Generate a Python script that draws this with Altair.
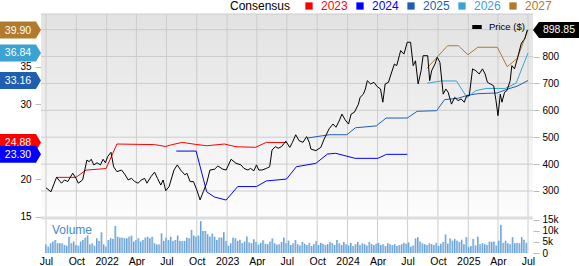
import altair as alt
import pandas as pd

# ---------------- data ----------------
price_dates = ["2021-07-01","2021-07-16","2021-08-02","2021-08-17","2021-08-26","2021-09-05","2021-09-20","2021-09-30","2021-10-07","2021-10-20",
"2021-11-02","2021-11-09","2021-11-15","2021-11-23","2021-12-03","2021-12-13","2021-12-21","2021-12-28","2022-01-04","2022-01-14",
"2022-01-22","2022-02-01","2022-02-15","2022-02-26","2022-03-07","2022-03-17","2022-03-27","2022-04-06","2022-04-16","2022-04-26",
"2022-05-03","2022-05-15","2022-05-26","2022-06-04","2022-06-14","2022-06-21","2022-06-29","2022-07-09","2022-07-24","2022-08-03",
"2022-08-13","2022-08-26","2022-09-01","2022-09-11","2022-09-21","2022-10-01","2022-10-11","2022-10-21","2022-10-31","2022-11-10",
"2022-11-24","2022-12-04","2022-12-19","2022-12-29","2023-01-13","2023-01-28","2023-02-12","2023-02-21","2023-03-05","2023-03-13",
"2023-03-23","2023-03-31","2023-04-07","2023-04-17","2023-04-30","2023-05-10","2023-05-17","2023-05-27","2023-06-05","2023-06-15",
"2023-06-28","2023-07-10","2023-07-18","2023-07-28","2023-08-07","2023-08-19","2023-08-30","2023-09-07","2023-09-12","2023-09-27",
"2023-10-12","2023-10-22","2023-11-06","2023-11-18","2023-11-27","2023-12-08","2023-12-15","2023-12-25","2024-01-04","2024-01-12",
"2024-01-22","2024-02-03","2024-02-08","2024-02-18","2024-02-24","2024-03-01","2024-03-11","2024-03-21","2024-03-31","2024-04-10",
"2024-04-17","2024-04-24","2024-05-04","2024-05-12","2024-05-22","2024-05-29","2024-06-06","2024-06-10","2024-06-20","2024-06-30",
"2024-07-10","2024-07-18","2024-07-25","2024-08-02","2024-08-11","2024-08-17","2024-08-31","2024-09-06","2024-09-12","2024-09-22",
"2024-09-29","2024-10-07","2024-10-17","2024-10-25","2024-11-01","2024-11-11","2024-11-21","2024-12-01","2024-12-10","2024-12-20",
"2024-12-27","2025-01-04","2025-01-14","2025-01-24","2025-02-03","2025-02-13","2025-02-21","2025-02-28","2025-03-09","2025-03-19",
"2025-03-26","2025-04-01","2025-04-08","2025-04-13","2025-04-21","2025-04-28","2025-05-08","2025-05-13","2025-05-21","2025-05-31",
"2025-06-10","2025-06-16","2025-06-21","2025-06-29"]
price_values = [312,297,351,329,341,335,366,347,329,341,
415,409,418,397,405,397,418,405,428,444,
390,372,378,360,341,347,335,329,341,347,
329,353,370,347,322,341,301,316,378,397,
378,360,366,335,335,304,267,298,329,378,
381,393,381,378,418,403,397,384,378,384,
375,397,378,378,384,390,452,465,459,465,
485,462,481,509,487,481,502,481,456,450,
462,493,531,549,537,564,586,564,549,586,
593,623,648,660,679,710,698,704,688,679,
630,698,704,735,772,766,803,822,809,853,
853,766,784,698,747,803,803,710,747,772,
797,778,660,679,667,623,648,636,642,630,
654,654,754,747,735,754,735,704,698,691,
636,580,660,630,667,673,710,766,754,797,
846,859,865,898.85]

eps2023_dates = ["2021-08-02","2021-09-30","2021-10-30","2021-12-30","2022-02-01","2022-05-26","2022-06-29","2022-07-14",
                 "2022-08-18","2022-09-26","2022-10-31","2022-12-24","2023-01-28","2023-03-28","2023-04-30","2023-07-01"]
eps2023_values = [20.23,20.23,21.2,21.4,24.68,24.6,24.35,24.55,24.9,24.64,24.45,24.68,24.32,24.24,24.9,24.88]

eps2024_dates = ["2022-07-31","2022-09-29","2022-10-31","2022-11-24","2022-12-29","2023-02-02","2023-03-31","2023-04-30",
                 "2023-06-30","2023-07-30","2023-09-27","2023-11-01","2023-11-26","2024-01-24","2024-04-02","2024-04-28","2024-06-30"]
eps2024_values = [23.74,23.74,18.3,17.6,17.2,19.0,19.0,19.75,20.0,21.65,22.1,23.34,23.44,22.77,22.77,23.3,23.3]

eps2025_dates = ["2023-09-02","2023-11-06","2023-12-30","2024-01-25","2024-03-28","2024-04-27","2024-06-30","2024-07-30",
                 "2024-09-27","2024-10-21","2024-12-02","2024-12-31","2025-01-30","2025-03-30","2025-04-29","2025-05-29","2025-07-01"]
eps2025_values = [25.48,25.92,25.92,26.85,27.1,28.15,28.15,29.05,29.13,30.6,30.8,31.2,31.4,31.5,32.0,32.4,33.16]

eps2026_dates = ["2024-08-29","2024-10-12","2024-11-26","2024-12-28","2025-01-24","2025-02-23","2025-04-23","2025-05-26","2025-07-01"]
eps2026_values = [32.8,33.1,33.1,30.9,31.8,32.1,32.1,32.8,36.84]

eps2027_dates = ["2024-08-29","2024-10-30","2024-12-02","2024-12-31","2025-01-30","2025-03-30","2025-04-29","2025-05-29","2025-07-01"]
eps2027_values = [34.8,37.8,37.8,36.6,37.6,37.6,35.0,36.1,39.90]

volume_k = [3.9,2.9,4.4,5.2,5.9,4.4,4.4,4.4,3.6,
3.3,7.4,4.4,5.2,3.6,3.3,5.2,5.9,7.0,7.9,
3.9,4.4,3.3,6.7,5.5,9.4,3.9,2.9,5.9,6.7,
6.4,12.3,7.4,7.0,7.0,6.7,6.7,7.4,7.9,5.2,
5.9,6.7,5.2,5.9,7.0,7.4,6.7,7.4,4.4,3.9,
3.9,8.9,5.5,7.0,5.9,7.4,5.5,5.9,7.9,5.5,
5.5,5.5,7.0,6.7,10.5,7.9,7.4,7.9,14.5,10.0,
10.0,8.5,7.4,8.9,7.4,5.9,7.0,7.0,9.4,5.5,
3.3,4.4,7.0,6.7,
5.5,6.0,4.5,5.2,7.5,4.8,4.4,6.2,5.0,3.8,4.6,5.8,4.2,4.0,5.2,6.6,4.4,3.8,
4.0,5.0,7.0,4.5,5.6,3.6,4.4,5.9,4.0,3.4,5.0,4.2,3.6,4.6,3.2,4.0,5.4,3.6,4.6,4.2,
3.6,4.0,5.0,4.5,3.6,5.9,4.4,3.6,5.0,4.0,3.4,4.6,3.2,4.0,5.0,3.6,4.4,4.0,3.4,5.0,
4.0,3.6,4.2,4.6,3.6,4.0,3.2,4.4,4.0,3.6,4.0,3.2,3.6,
4.0,4.6,4.2,4.8,2.9,3.4,6.6,7.2,5.2,4.4,4.0,3.6,4.4,4.0,3.6,4.6,3.2,4.2,5.0,8.4,
4.2,6.6,5.6,6.4,5.6,5.0,6.0,4.0,7.2,2.6,3.2,6.4,3.4,7.4,4.0,4.4,4.0,3.6,5.2,5.0,
5.2,3.4,5.6,12.8,4.6,5.6,4.4,4.0,7.2,4.4,4.6,4.4,7.2,6.0,4.6]

tick_dates = ["2021-07-01","2021-10-01","2022-01-01","2022-04-01","2022-07-01","2022-10-01","2023-01-01","2023-04-01",
              "2023-07-01","2023-10-01","2024-01-01","2024-04-01","2024-07-01","2024-10-01","2025-01-01","2025-04-01","2025-07-01"]

series_names = ["2023", "2024", "2025", "2026", "2027"]
series_colors = ["#ff0000", "#0000ff", "#1f5fb0", "#3ba2d4", "#b27a2c"]
latest_eps = [24.88, 23.30, 33.16, 36.84, 39.90]
latest_eps_labels = ["24.88", "23.30", "33.16", "36.84", "39.90"]
latest_price = 898.85
latest_price_label = "898.85"
price_grid = [300, 400, 500, 600, 700, 800, 900]
price_ticks = [300, 400, 500, 600, 700, 800]
eps_ticks = [15, 20, 30, 35]
vol_ticks = [0, 5000, 10000, 15000]

# ---------------- tables ----------------
FONT = "Liberation Sans"
W, H = 492, 239

price_df = pd.DataFrame({"date": pd.to_datetime(price_dates), "price": price_values, "name": "Price ($)"})
eps_frames = []
for name, d, v in [("2023", eps2023_dates, eps2023_values), ("2024", eps2024_dates, eps2024_values),
                   ("2025", eps2025_dates, eps2025_values), ("2026", eps2026_dates, eps2026_values),
                   ("2027", eps2027_dates, eps2027_values)]:
    eps_frames.append(pd.DataFrame({"date": pd.to_datetime(d), "eps": v, "series": name}))
eps_df = pd.concat(eps_frames, ignore_index=True)
vol_df = pd.DataFrame({"date": pd.date_range("2021-07-02", periods=len(volume_k), freq="7D"),
                       "vol": [v * 1000 for v in volume_k]})
tag_df = pd.DataFrame({"series": series_names, "val": latest_eps, "label": latest_eps_labels})
tag_back = tag_df[tag_df.series != "2024"].iloc[::-1]
tag_front = tag_df[tag_df.series == "2024"]
ptag_df = pd.DataFrame({"price": [latest_price], "label": [latest_price_label]})
grid_df = pd.DataFrame({"date": pd.to_datetime(tick_dates)})
pgrid_df = pd.DataFrame({"p": price_grid})
one = pd.DataFrame({"a": [0]})

tick_dt = [alt.DateTime(year=d.year, month=d.month, date=d.day) for d in pd.to_datetime(tick_dates)]
xscale = alt.Scale(domain=[tick_dt[0], tick_dt[-1]])
price_scale = alt.Scale(domain=[69.5, 958], nice=False, zero=False)
eps_scale = alt.Scale(domain=[10.13, 42.04], nice=False, zero=False)
vol_scale = alt.Scale(domain=[0, 108636], nice=False)
color_scale = alt.Scale(domain=series_names, range=series_colors)

label_color_expr = " : ".join(f"datum.label == '{s}' ? '{c}'" for s, c in zip(series_names, series_colors)) + " : 'black'"

x_axis = alt.Axis(values=tick_dt, labelExpr="month(datum.value) == 0 ? timeFormat(datum.value, '%Y') : timeFormat(datum.value, '%b')",
                  grid=False, domain=False, ticks=False, tickSize=0, labelPadding=3, labelFontSize=10.5,
                  labelColor="black", labelOverlap=False, labelFlush=False, labelBound=False, title=None)
eps_axis = alt.Axis(orient="left", values=eps_ticks, grid=False, domain=False, tickColor="#bbbbbb", tickSize=6,
                    labelPadding=4, labelFontSize=10, labelColor="black", title=None)
price_axis = alt.Axis(orient="right", values=price_ticks, grid=False, domain=False, tickColor="#bbbbbb", tickSize=6,
                      labelPadding=3, labelFontSize=10, labelColor="black", title=None)
vol_axis = alt.Axis(orient="right", values=vol_ticks,
                    labelExpr="datum.value == 0 ? '0' : format(datum.value / 1000, 'd') + 'k'",
                    grid=False, domain=False, tickColor="#bbbbbb",
                    tickSize=6, labelPadding=3, labelFontSize=10, labelColor="black", title=None)

cons_legend = alt.Legend(orient="none", legendX=189, legendY=-14, direction="horizontal", title="Consensus",
                         titleOrient="left", titleFontSize=12, titleFontWeight="normal", titleColor="black",
                         titlePadding=12, symbolType="square", symbolSize=53, symbolStrokeWidth=0,
                         symbolOpacity=1,
                         labelFontSize=12, labelColor=alt.ExprRef(expr=label_color_expr), labelOffset=6,
                         columnPadding=6, padding=0)


def X():
    return alt.X("date:T", scale=xscale, axis=x_axis)


def C():
    return alt.Color("series:N", scale=color_scale, legend=cons_legend)


# ---------------- layers ----------------
bg = alt.Chart(one).mark_rect(fill={"gradient": "linear", "x1": 0, "x2": 0, "y1": 0, "y2": 1,
                                    "stops": [{"offset": 0, "color": "#e2e2e2"}, {"offset": 1, "color": "#fdfdfd"}]}
                              ).encode(x=alt.value(0), x2=alt.value(W), y=alt.value(0), y2=alt.value(204))
vgrid = alt.Chart(grid_df).mark_rule(color="#cccccc", strokeWidth=1).encode(x=X())
hgrid = alt.Chart(pgrid_df).mark_rule(color="#cccccc", strokeWidth=1).encode(
    y=alt.Y("p:Q", scale=price_scale, axis=None))
band = alt.Chart(pd.DataFrame({"p": [200]})).mark_rule(color="#dddddd", strokeWidth=3).encode(
    y=alt.Y("p:Q", scale=price_scale, axis=None))
top = alt.Chart(one).mark_rule(color="#cccccc", strokeWidth=1).encode(y=alt.value(0))

vol_bars = alt.Chart(vol_df).mark_bar(color="#a9cbea", width=1.6).encode(
    x=X(), y=alt.Y("vol:Q", scale=vol_scale, axis=vol_axis))
vol_rules = alt.Chart(vol_df).mark_rule(color="#4a8fce", strokeWidth=0.8, xOffset=-0.6).encode(
    x=X(), y=alt.Y("vol:Q", scale=vol_scale, axis=None), y2=alt.value(H))
vol_text = alt.Chart(one).mark_text(text="Volume", color="#3f8bd0", fontSize=12, align="left",
                                    baseline="middle", font=FONT).encode(x=alt.value(11), y=alt.value(216))

eps_lines = alt.Chart(eps_df).mark_line(strokeWidth=1).encode(
    x=X(), y=alt.Y("eps:Q", scale=eps_scale, axis=eps_axis), color=C())

price_line = alt.Chart(price_df).mark_line(strokeWidth=1).encode(
    x=X(), y=alt.Y("price:Q", scale=price_scale, axis=price_axis),
    stroke=alt.Stroke("name:N", scale=alt.Scale(domain=["Price ($)"], range=["black"]),
                      legend=alt.Legend(orient="none", legendX=429, legendY=6, title=None, symbolType="stroke",
                                        symbolStrokeWidth=4, symbolSize=90, labelFontSize=9.5, labelColor="black",
                                        labelOffset=5, padding=0)))

TAG = "M-1,-0.415L0.756,-0.415L1,0L0.756,0.415L-1,0.415Z"


def tags(df):
    pts = alt.Chart(df).mark_point(shape=TAG, filled=True, size=1681, opacity=1, strokeWidth=0).encode(
        x=alt.value(-20.5), y=alt.Y("val:Q", scale=eps_scale, axis=None), color=C())
    txt = alt.Chart(df).mark_text(color="white", fontSize=10.5, align="center", baseline="middle", dy=0.5).encode(
        x=alt.value(-23), y=alt.Y("val:Q", scale=eps_scale, axis=None), text="label:N")
    return pts, txt


tb_p, tb_t = tags(tag_back)
tf_p, tf_t = tags(tag_front)

RTAG = "M-1,0L-0.74,-0.348L1,-0.348L1,0.348L-0.74,0.348Z"
ptag = alt.Chart(ptag_df).mark_point(shape=RTAG, filled=True, size=2116, opacity=1, strokeWidth=0, color="black").encode(
    x=alt.value(515), y=alt.Y("price:Q", scale=price_scale, axis=None))
ptag_t = alt.Chart(ptag_df).mark_text(color="white", fontSize=10.5, align="center", baseline="middle", dy=0.5).encode(
    x=alt.value(518), y=alt.Y("price:Q", scale=price_scale, axis=None), text="label:N")

chart = alt.layer(
    bg, vgrid, hgrid, band, top, vol_bars, vol_rules, vol_text, eps_lines, price_line,
    tb_p, tb_t, tf_p, tf_t, ptag, ptag_t
).resolve_scale(y="independent").properties(
    width=W, height=H, autosize="none",
    padding={"left": 41, "top": 14, "right": 46, "bottom": 13}
).configure(font=FONT, background="white").configure_view(strokeWidth=0)

chart.save("out.html", embed_options={"renderer": "svg", "actions": False})
